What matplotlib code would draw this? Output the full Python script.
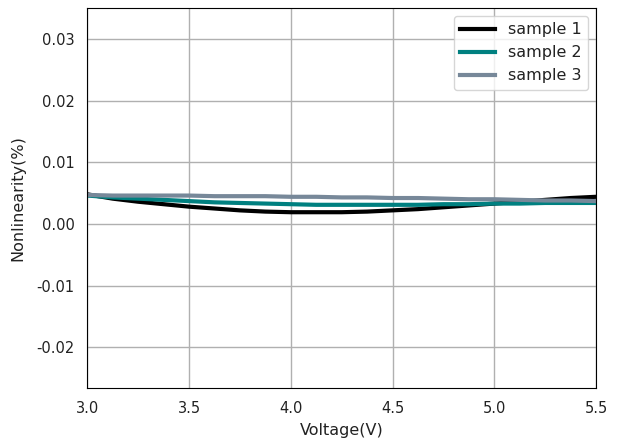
import numpy as np
import matplotlib.pyplot as plt

# Datos
voltage = [3.0, 3.125, 3.25, 3.375, 3.5, 3.625, 3.75, 3.875, 4.0, 4.125, 4.25,
           4.375, 4.5, 4.625, 4.75, 4.875, 5.0, 5.125, 5.25, 5.375, 5.5]
sample_1 = [0.0048, 0.0041, 0.0036, 0.0032, 0.0028, 0.0025, 0.0022, 0.0020, 0.0019, 0.0019, 0.0019,
            0.0020, 0.0022, 0.0024, 0.0027, 0.0030, 0.0033, 0.0036, 0.0039, 0.0042, 0.0044]
sample_2 = [0.0046, 0.0043, 0.0041, 0.0039, 0.0037, 0.0035, 0.0034, 0.0033, 0.0032, 0.0031, 0.0031,
            0.0031, 0.0031, 0.0031, 0.0032, 0.0032, 0.0033, 0.0033, 0.0034, 0.0034, 0.0034]
sample_3 = [0.0047, 0.0046, 0.0046, 0.0046, 0.0046, 0.0045, 0.0045, 0.0045, 0.0044, 0.0044, 0.0043,
            0.0043, 0.0042, 0.0042, 0.0041, 0.0040, 0.0040, 0.0039, 0.0038, 0.0038, 0.0037]

labels = ["sample 1", "sample 2", "sample 3"]
colors = ["black", "teal", "lightslategray"]

fig, ax = plt.subplots(figsize=(6.19, 4.44), dpi=100)
for y, lab, col in zip([sample_1, sample_2, sample_3], labels, colors):
    ax.plot(voltage, y, color=col, linewidth=3, label=lab)

ax.set_xlim(3.0, 5.5)
ax.set_ylim(-0.0266, 0.035)
ax.set_xticks([3.0, 3.5, 4.0, 4.5, 5.0, 5.5])
ax.set_yticks([-0.02, -0.01, 0.0, 0.01, 0.02, 0.03])
ax.set_yticklabels(["-0.02", "-0.01", "0.00", "0.01", "0.02", "0.03"])
ax.tick_params(length=0, labelsize=10.5, pad=9, labelcolor="#222222")
ax.grid(True, color="#b0b0b0", linewidth=1)
ax.set_xlabel("Voltage(V)", fontsize=11.5, color="#222222", labelpad=5)
ax.set_ylabel("Nonlinearity(%)", fontsize=11.5, color="#222222", labelpad=8)
ax.legend(loc="upper right", fontsize=11.5, handlelength=2.2, labelcolor="#222222")

fig.subplots_adjust(left=0.141, right=0.963, top=0.982, bottom=0.126)
fig.savefig("out.png", dpi=100)
